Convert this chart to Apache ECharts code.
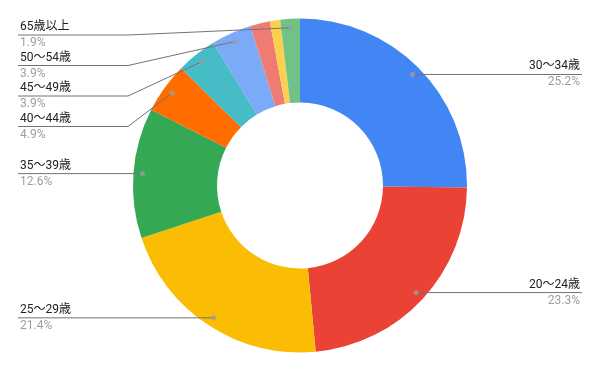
<!DOCTYPE html>
<html>
<head>
<meta charset="utf-8">
<script src="https://cdn.jsdelivr.net/npm/echarts@6/dist/echarts.min.js"></script>
<style>html,body{margin:0;padding:0;background:#fff}#c{width:600px;height:371px}</style>
</head>
<body>
<div id="c"></div>
<script>
// Data (percent shares, clockwise from top)
const categories = ['30～34歳','20～24歳','25～29歳','35～39歳','40～44歳','45～49歳','50～54歳','55～59歳','60～64歳','65歳以上'];
const values = [25.2, 23.3, 21.4, 12.6, 4.9, 3.9, 3.9, 1.9, 1.0, 1.9];
const labelShown = [true, true, true, true, true, true, true, false, false, true];
const colors = ['#4285f4','#ea4335','#fbbc04','#34a853','#ff6d01','#46bdc6','#7baaf7','#f07b72','#fcd04f','#71c287'];

const CX = 300, CY = 185.5, R_OUT = 167, R_IN = 83, R_DOT = 158;
const LABEL_TOP = 35, LABEL_GAP = 30.5;
const FONT = 'Roboto, "Noto Sans CJK JP", sans-serif';

const total = values.reduce((a, b) => a + b, 0);
let cum = 0;
const dotData = [];
const anchors = [];
values.forEach((v, i) => {
  const mid = (cum + v / 2) / total * 100;
  cum += v;
  if (labelShown[i]) {
    dotData.push([1, mid]);
    const a = mid / 100 * Math.PI * 2;
    anchors.push({ i: i, left: Math.sin(a) < 0, y: CY - R_DOT * Math.cos(a) });
  }
});
// stack labels on each side so they don't overlap
const labelY = {};
[true, false].forEach(side => {
  const list = anchors.filter(o => o.left === side).sort((a, b) => a.y - b.y);
  let prev = -Infinity;
  list.forEach(o => {
    const y = Math.max(o.y, prev + LABEL_GAP, LABEL_TOP);
    labelY[o.i] = y;
    prev = y;
  });
});

const pieData = categories.map((c, i) => ({ name: c, value: values[i], itemStyle: { color: colors[i] } }));
const labelData = categories.map((c, i) => ({
  name: c, value: values[i],
  label: { show: labelShown[i] },
  labelLine: { show: labelShown[i] }
}));

const chart = echarts.init(document.getElementById('c'), null, { renderer: 'canvas' });
chart.setOption({
  animation: false,
  backgroundColor: '#fff',
  polar: { center: [CX, CY], radius: R_DOT },
  angleAxis: { type: 'value', min: 0, max: 100, startAngle: 90, clockwise: true, show: false },
  radiusAxis: { type: 'value', min: 0, max: 1, show: false },
  series: [
    {
      type: 'pie',
      radius: [R_IN, R_OUT],
      center: [CX, CY],
      startAngle: 90,
      clockwise: true,
      silent: true,
      label: { show: false },
      labelLine: { show: false },
      itemStyle: { borderWidth: 0 },
      emphasis: { disabled: true },
      data: pieData,
      z: 1
    },
    {
      type: 'pie',
      radius: [0, R_DOT],
      center: [CX, CY],
      startAngle: 90,
      clockwise: true,
      silent: true,
      avoidLabelOverlap: false,
      itemStyle: { color: 'rgba(0,0,0,0)', borderWidth: 0 },
      emphasis: { disabled: true },
      label: {
        show: true,
        position: 'outer',
        alignTo: 'edge',
        edgeDistance: 20,
        verticalAlign: 'middle',
        formatter: p => '{n|' + p.name + '}\n{p|' + p.value.toFixed(1) + '%}',
        rich: {
          n: { fontSize: 12, color: '#222222', lineHeight: 16, fontFamily: FONT },
          p: { fontSize: 12, color: '#9e9e9e', lineHeight: 16, fontFamily: FONT }
        }
      },
      labelLine: { show: true, length: 0, length2: 10, lineStyle: { color: '#737373', width: 1 } },
      labelLayout: function (p) {
        const pts = p.labelLinePoints;
        if (!pts || labelY[p.dataIndex] === undefined) return {};
        const r = p.labelRect;
        const isLeft = r.x + r.width / 2 < CX;
        const y = labelY[p.dataIndex];
        const bendX = isLeft ? CX - R_OUT - 5 : CX + R_OUT + 5;
        const endX = isLeft ? r.x - 2 : r.x + r.width + 2;
        return { y: y, verticalAlign: 'middle', labelLinePoints: [pts[0], [bendX, y], [endX, y]] };
      },
      data: labelData,
      z: 2
    },
    {
      type: 'scatter',
      coordinateSystem: 'polar',
      symbol: 'circle',
      symbolSize: 5,
      silent: true,
      itemStyle: { color: '#9e9e9e' },
      data: dotData,
      z: 3
    }
  ]
});
</script>
</body>
</html>
